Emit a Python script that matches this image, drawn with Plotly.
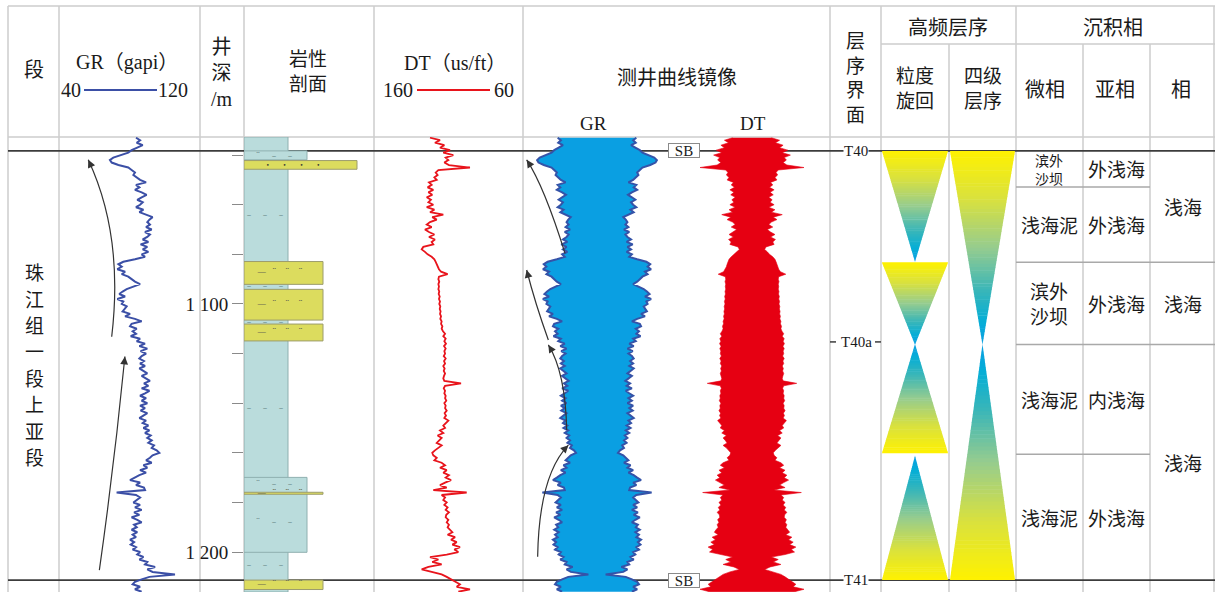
import plotly.graph_objects as go
from plotly.colors import sample_colorscale

# ---------------- data ----------------
depth = list(range(1033, 1217))  # m, 1 m sampling

gr = [
    83.7, 86.0, 84.1, 87.5, 84.4, 81.2, 79.3, 75.6, 70.8, 68.9,
    69.9, 73.7, 79.3, 81.2, 83.1, 82.2, 84.4, 86.0, 89.4, 83.7,
    85.6, 83.1, 86.9, 89.7, 86.9, 84.4, 87.5, 86.0, 83.7, 87.9,
    85.6, 89.7, 93.1, 91.3, 90.1, 91.6, 89.4, 92.6, 88.8, 91.6,
    90.1, 87.5, 90.7, 86.3, 90.1, 87.5, 90.7, 86.9, 88.8, 83.1,
    76.5, 73.7, 75.6, 73.1, 77.5, 75.6, 79.3, 81.2, 83.1, 86.0,
    82.2, 78.4, 76.1, 74.2, 77.5, 73.1, 76.5, 75.6, 78.4, 77.5,
    76.1, 80.3, 77.5, 83.1, 86.9, 81.2, 80.3, 84.1, 81.8, 83.7,
    80.7, 86.0, 84.1, 88.8, 85.6, 90.1, 86.3, 89.4, 86.9, 85.6,
    88.2, 86.0, 88.8, 85.6, 87.9, 90.1, 86.9, 89.4, 91.6, 88.2,
    90.7, 86.9, 91.3, 88.8, 86.0, 89.4, 86.9, 90.1, 86.0, 88.8,
    86.3, 90.1, 87.9, 85.6, 89.4, 87.5, 90.7, 87.9, 91.3, 88.8,
    92.0, 90.1, 92.6, 90.7, 93.9, 92.6, 95.4, 96.9, 93.1, 91.6,
    89.4, 92.6, 87.9, 90.1, 86.0, 89.4, 85.6, 83.1, 80.3, 86.0,
    83.7, 88.2, 88.8, 72.7, 83.7, 86.0, 84.4, 82.2, 86.0, 83.1,
    86.9, 82.6, 85.6, 81.2, 84.4, 86.9, 82.6, 84.1, 81.2, 84.4,
    81.8, 83.7, 80.3, 82.6, 80.7, 83.7, 81.8, 86.0, 84.4, 87.9,
    85.6, 90.1, 88.8, 94.5, 90.1, 93.1, 105.8, 91.3, 86.9, 83.1,
    81.8, 86.0, 83.1, 86.9,
]

dt = [
    122.4, 115.7, 119.1, 112.8, 115.7, 109.0, 113.5, 106.8, 111.9, 110.1,
    112.8, 109.7, 95.6, 116.8, 118.6, 117.3, 119.5, 117.9, 123.1, 121.3,
    124.0, 120.2, 123.5, 120.9, 124.6, 121.8, 123.5, 120.2, 124.6, 119.5,
    122.4, 113.5, 120.9, 117.9, 122.4, 124.6, 121.3, 125.8, 123.1, 119.5,
    123.1, 119.1, 121.3, 120.2, 126.9, 128.0, 125.8, 124.0, 121.3, 119.5,
    118.6, 117.9, 117.3, 116.4, 115.0, 110.6, 116.4, 116.8, 116.2, 116.8,
    116.4, 116.8, 116.2, 116.6, 115.9, 116.4, 115.7, 116.2, 115.5, 115.9,
    115.3, 115.7, 115.0, 115.5, 114.6, 115.0, 114.1, 114.6, 113.7, 112.3,
    113.5, 111.9, 112.8, 111.7, 113.0, 111.9, 112.8, 112.3, 113.2, 111.9,
    113.0, 112.3, 113.5, 112.6, 113.2, 112.3, 113.0, 113.5, 112.8, 101.6,
    112.3, 113.2, 112.3, 112.8, 111.9, 112.3, 111.5, 112.8, 111.9, 112.3,
    111.2, 112.6, 111.7, 112.8, 110.1, 111.9, 113.5, 112.3, 115.7, 113.5,
    117.3, 114.6, 116.4, 117.9, 114.6, 117.3, 119.1, 120.9, 120.2, 117.9,
    119.5, 114.6, 112.3, 115.7, 111.2, 113.5, 109.7, 111.9, 108.3, 112.3,
    115.7, 111.2, 120.2, 97.8, 114.6, 112.3, 113.5, 111.2, 112.8, 110.6,
    111.9, 109.7, 111.5, 111.9, 110.1, 111.2, 109.7, 110.6, 108.8, 107.4,
    110.6, 105.6, 108.3, 104.5, 107.4, 102.3, 106.1, 103.4, 111.2, 122.4,
    116.8, 120.9, 114.6, 123.5, 128.0, 120.2, 114.6, 111.2, 108.3, 105.6,
    102.3, 104.5, 95.6, 103.4,
]
assert len(gr) == len(depth) and len(dt) == len(depth)

depth_ticks = [1040, 1060, 1080, 1100, 1120, 1140, 1160, 1180, 1200]
depth_ticktext = ['', '', '', '1 100', '', '', '', '', '1 200']

# lithology intervals (top, bottom, type)
lith_top = [1032.7, 1038.3, 1042.2, 1082.9, 1094.1, 1108.1, 1169.9, 1175.9, 1211.3]
lith_bot = [1216.1, 1041.9, 1045.7, 1092.1, 1106.5, 1114.9, 1200.1, 1176.7, 1215.1]
lith_type = ['泥岩', '粉砂质泥岩', '砂岩', '泥质粉砂岩', '泥质粉砂岩', '泥质粉砂岩',
             '粉砂质泥岩', '泥质粉砂岩', '泥质粉砂岩']
lith_mark_depth = [1064.4, 1093.0, 1107.4, 1142.3, 1205.6, 1040.6, 1173.0, 1188.3,
                   1044.0, 1087.5, 1100.3, 1111.5, 1176.5, 1213.2]
lith_mark_type = ['泥岩', '泥岩', '泥岩', '泥岩', '泥岩', '粉砂质泥岩', '粉砂质泥岩', '粉砂质泥岩',
                  '砂岩', '泥质粉砂岩', '泥质粉砂岩', '泥质粉砂岩', '泥质粉砂岩', '泥质粉砂岩']

# sequence boundaries
bound_depth = [1038.3, 1115.3, 1211.3]
bound_name = ['T40', 'T40a', 'T41']
sb_depth = [1038.3, 1211.3]

# high-frequency cycles (triangles)
grain_top = [1038.3, 1083.2, 1116.3, 1161.3]
grain_bot = [1082.9, 1116.3, 1160.2, 1211.3]
grain_dir = ['down', 'down', 'up', 'up']
seq4_top = [1038.3, 1116.3]
seq4_bot = [1116.3, 1211.3]
seq4_dir = ['down', 'up']

# sedimentary facies
micro_top = [1038.3, 1052.9, 1083.2, 1116.3, 1160.6]
micro_bot = [1052.9, 1083.2, 1116.3, 1160.6, 1211.3]
micro_name = ['滨外\n沙坝', '浅海泥', '滨外\n沙坝', '浅海泥', '浅海泥']
sub_name = ['外浅海', '外浅海', '外浅海', '内浅海', '外浅海']
facies_top = [1038.3, 1083.2, 1116.3]
facies_bot = [1083.2, 1116.3, 1211.3]
facies_name = ['浅海', '浅海', '浅海']
member_name = '珠江组一段上亚段'

# interpretive arrows: (head, control, tail) in track units / depth
gr_arrows = [((56.6, 1041.9), (76.75, 1072.45), (69.9, 1113.2)),
             ((77.4, 1121.2), (71.5, 1164.0), (62.9, 1207.3))]
mirror_arrows = [((-50.6, 1041.9), (-38.0, 1052.6), (-23.0, 1079.6)),
                 ((-50.6, 1086.3), (-44.6, 1099.6), (-35.0, 1114.5)),
                 ((-35.0, 1116.5), (-22.7, 1127.6), (-21.8, 1150.8)),
                 ((-20.6, 1156.9), (-41.7, 1169.0), (-42.7, 1201.9))]

# ---------------- style ----------------
W, H = 1215, 592
SERIF = 'Liberation Serif, Noto Sans CJK SC'
CJK = 'Noto Sans CJK SC'
INK = '#1a1a1a'
GRID = '#cdcdcd'
DARK = '#3c3c3c'
GR_MIRROR_BASE = 112.0
DT_MIRROR_BASE = 138.4
DATA_TOP_PX = 137
DEPTH_RANGE = [1216.1, 1032.7]
CYCLE_SCALE = [[0, '#fff200'], [0.25, '#d9e13e'], [0.5, '#96cc8e'],
               [0.72, '#3ab6b8'], [0.88, '#05aed6'], [1, '#0b9fe2']]
LITH_STYLE = {
    '泥岩': dict(w=44, fill='#badcdc', edge='#8fb0b0', mark='–    –    –', mx=21, mc='#6f8f8f', ms=9),
    '粉砂质泥岩': dict(w=63, fill='#badcdc', edge='#8fb0b0', mark='¨    –    –', mx=30, mc='#6f8f8f', ms=9),
    '泥质粉砂岩': dict(w=79, fill='#dcdc5e', edge='#9c9c6c', mark='—  ¨   ¨   ¨', mx=36, mc='#6a6a50', ms=9),
    '砂岩': dict(w=113, fill='#dcdc5e', edge='#9c9c6c', mark='•       •       •       •', mx=49, mc='#333333', ms=6),
}


def xp(px):
    return px / W


def yp(py):
    return 1 - py / H


fig = go.Figure()

# GR curve
fig.add_trace(go.Scatter(x=gr, y=depth, xaxis='x', yaxis='y', mode='lines',
                         line=dict(color='#3b4fa6', width=2), hoverinfo='skip'))
# DT curve
fig.add_trace(go.Scatter(x=dt, y=depth, xaxis='x2', yaxis='y', mode='lines',
                         line=dict(color='#e8141c', width=1.8), hoverinfo='skip'))

# mirror GR
gw = [GR_MIRROR_BASE - v for v in gr]
fig.add_trace(go.Scatter(x=gw + [-v for v in gw[::-1]], y=depth + depth[::-1],
                         xaxis='x3', yaxis='y', mode='lines', fill='toself',
                         fillcolor='#0a9fe2', line=dict(width=0), hoverinfo='skip'))
for sgn in (1, -1):
    fig.add_trace(go.Scatter(x=[sgn * v for v in gw], y=depth, xaxis='x3', yaxis='y',
                             mode='lines', line=dict(color='#3553a8', width=2),
                             hoverinfo='skip'))
# mirror DT
dw = [DT_MIRROR_BASE - v for v in dt]
fig.add_trace(go.Scatter(x=dw + [-v for v in dw[::-1]], y=depth + depth[::-1],
                         xaxis='x4', yaxis='y', mode='lines', fill='toself',
                         fillcolor='#e60012', line=dict(width=0.6, color='#e60012'),
                         hoverinfo='skip'))

# lithology column
fig.add_trace(go.Bar(
    orientation='h', xaxis='x5', yaxis='y',
    y=[(a + b) / 2 for a, b in zip(lith_top, lith_bot)],
    x=[LITH_STYLE[t]['w'] for t in lith_type],
    width=[b - a for a, b in zip(lith_top, lith_bot)],
    base=0,
    marker=dict(color=[LITH_STYLE[t]['fill'] for t in lith_type],
                line=dict(color=[LITH_STYLE[t]['edge'] for t in lith_type], width=1)),
    hoverinfo='skip'))
for t in LITH_STYLE:
    ds = [d for d, k in zip(lith_mark_depth, lith_mark_type) if k == t]
    if not ds:
        continue
    st = LITH_STYLE[t]
    fig.add_trace(go.Scatter(x=[st['mx']] * len(ds), y=ds, xaxis='x5', yaxis='y',
                             mode='text', text=[st['mark']] * len(ds),
                             textfont=dict(size=st['ms'], color=st['mc'], family='DejaVu Sans'),
                             textposition='middle center', hoverinfo='skip'))

shapes = []
annotations = []


def line_px(x0, y0, x1, y1, color=GRID, width=1.5, layer='below'):
    shapes.append(dict(type='line', xref='paper', yref='paper', x0=xp(x0), y0=yp(y0),
                       x1=xp(x1), y1=yp(y1), line=dict(color=color, width=width), layer=layer))


def hline_depth(x0, x1, d, color, width=1.5, layer='below'):
    shapes.append(dict(type='line', xref='paper', yref='y', x0=xp(x0), x1=xp(x1), y0=d, y1=d,
                       line=dict(color=color, width=width), layer=layer))


def text_px(x, y, s, size=20, family=CJK, **kw):
    annotations.append(dict(x=xp(x), y=yp(y), xref='paper', yref='paper', text=s,
                            showarrow=False, font=dict(family=family, size=size, color=INK),
                            xanchor='center', yanchor='middle', **kw))


def text_depth(x, d, s, size=19, family=CJK, **kw):
    annotations.append(dict(x=xp(x), y=d, xref='paper', yref='y', text=s,
                            showarrow=False, font=dict(family=family, size=size, color=INK),
                            xanchor='center', yanchor='middle', **kw))


# table grid
cols_full = [8, 59, 200, 244, 374, 523, 830, 881, 1016, 1214]
cols_sub = [949, 1083, 1150]
for c in cols_full:
    line_px(c, 6, c, H)
for c in cols_sub:
    line_px(c, 44, c, H)
line_px(8, 6, W, 6)
line_px(881, 44, W, 44)
line_px(8, DATA_TOP_PX, W, DATA_TOP_PX)

# sequence boundaries
for d, nm in zip(bound_depth, bound_name):
    if nm == 'T40a':
        hline_depth(830, 836, d, DARK, 1.5, 'above')
        hline_depth(875, 881, d, DARK, 1.5, 'above')
        text_depth(856, d, nm, size=15, family=SERIF)
    else:
        hline_depth(8, W, d, DARK, 1.6)
        text_depth(855.5, d, nm, size=15, family=SERIF, bgcolor='white', borderpad=0)
for d in sb_depth:
    text_depth(683.5, d, 'SB', size=15, family=SERIF, bgcolor='white',
               bordercolor='#8a8a8a', borderwidth=1, borderpad=0, width=30, height=13)

# facies row lines and labels
facies_bounds = set(facies_top[1:])
for i, (a, b) in enumerate(zip(micro_top, micro_bot)):
    if i > 0:
        x1 = W if a in facies_bounds else 1150
        hline_depth(1016, x1, a, '#a9a9a9', 1.5)
    mid = (a + b) / 2
    small = (b - a) < 20
    text_depth(1049, mid, micro_name[i].replace('\n', '<br>'), size=14 if small else 19,
               borderpad=0)
    text_depth(1116, mid, sub_name[i])
for a, b, nm in zip(facies_top, facies_bot, facies_name):
    text_depth(1183, (a + b) / 2, nm)


# gradient triangles
def triangles(tops, bots, dirs, xref, n=60):
    cols = sample_colorscale(CYCLE_SCALE, [(i + 0.5) / n for i in range(n)])
    for a, b, dr in zip(tops, bots, dirs):
        span = b - a
        for i in range(n):
            t0, t1 = i / n, (i + 1) / n
            w0, w1 = 1 - t0, 1 - t1
            if dr == 'down':
                d0, d1 = a + t0 * span, a + t1 * span + 0.2
            else:
                d0, d1 = b - t0 * span, b - t1 * span - 0.2
            path = (f'M {-w0},{d0} L {w0},{d0} L {w1},{d1} L {-w1},{d1} Z')
            shapes.append(dict(type='path', xref=xref, yref='y', path=path,
                               fillcolor=cols[i], line=dict(width=0), layer='above'))


triangles(grain_top, grain_bot, grain_dir, 'x6')
triangles(seq4_top, seq4_bot, seq4_dir, 'x7')


# interpretive arrows
def arrows(defs, xref, xscale):
    for (h, c, t) in defs:
        shapes.append(dict(type='path', xref=xref, yref='y',
                           path=f'M {h[0]},{h[1]} Q {c[0]},{c[1]} {t[0]},{t[1]}',
                           line=dict(color='#333333', width=1.2), layer='above'))
        dxp = (c[0] - h[0]) * xscale
        dyp = (c[1] - h[1]) * 2.48
        L = (dxp ** 2 + dyp ** 2) ** 0.5
        k = 9 / L
        annotations.append(dict(x=h[0], y=h[1], xref=xref, yref='y', axref=xref, ayref='y',
                                ax=h[0] + (c[0] - h[0]) * k, ay=h[1] + (c[1] - h[1]) * k,
                                text='', showarrow=True, arrowhead=2, arrowsize=1.3,
                                arrowwidth=1.2, arrowcolor='#333333', standoff=0))


arrows(gr_arrows, 'x', 141 / 80)
arrows(mirror_arrows, 'x3', 1.39)

# header text
text_px(34, 68, '段')
text_px(127, 63, 'GR（gapi）', family=SERIF)
text_px(71, 90, '40', family=SERIF)
text_px(173, 90, '120', family=SERIF)
line_px(84, 90, 157, 90, color='#3b4fa6', width=2, layer='above')
text_px(222, 73, '井<br>深<br>/m', size=20, family=SERIF)
text_px(308, 70, '岩性<br>剖面', size=19)
text_px(455, 63, 'DT（us/ft）', family=SERIF)
text_px(398, 90, '160', family=SERIF)
text_px(504, 90, '60', family=SERIF)
line_px(417, 90, 490, 90, color='#e8141c', width=2, layer='above')
text_px(677, 77, '测井曲线镜像')
text_px(593, 123, 'GR', size=19, family=SERIF)
text_px(753, 123, 'DT', size=19, family=SERIF)
text_px(855, 76, '<br>'.join('层序界面'), size=19, borderpad=0)
text_px(948, 26, '高频层序')
text_px(1113, 26, '沉积相')
text_px(915, 87, '粒度<br>旋回', size=19)
text_px(983, 87, '四级<br>层序', size=19)
text_px(1045, 88, '微相')
text_px(1115, 88, '亚相')
text_px(1181, 88, '相')
for i, ch in enumerate(member_name):
    text_px(34, 271.7 + 26.4 * i, ch, size=19, borderpad=0)


def xax(x0, x1, rng):
    return dict(domain=[xp(x0), xp(x1)], range=rng, anchor='y', visible=False,
                showgrid=False, zeroline=False, fixedrange=True)


fig.update_layout(
    width=W, height=H, margin=dict(l=0, r=0, t=0, b=0),
    paper_bgcolor='white', plot_bgcolor='rgba(0,0,0,0)',
    showlegend=False, barmode='overlay',
    xaxis=xax(59, 200, [40, 120]),
    xaxis2=xax(374, 523, [160, 60]),
    xaxis3=xax(523, 830, [(523 - 597) / 1.39, (830 - 597) / 1.39]),
    xaxis4=xax(523, 830, [(523 - 752) / 1.215, (830 - 752) / 1.215]),
    xaxis5=xax(244, 374, [0, 130]),
    xaxis6=xax(881, 949, [-1.03, 1.03]),
    xaxis7=xax(949, 1016, [-1.03, 1.03]),
    yaxis=dict(domain=[0, yp(DATA_TOP_PX)], range=DEPTH_RANGE, anchor='x5', side='left',
               tickvals=depth_ticks, ticktext=depth_ticktext, ticks='outside', ticklen=11,
               tickcolor='#8a8a8a', tickwidth=1, showgrid=False, zeroline=False,
               showline=False, fixedrange=True,
               tickfont=dict(family=SERIF, size=19, color=INK)),
    shapes=shapes, annotations=annotations,
)

fig.write_html("out.html", post_script="document.body.style.margin='0';",
               config={'displayModeBar': False})
